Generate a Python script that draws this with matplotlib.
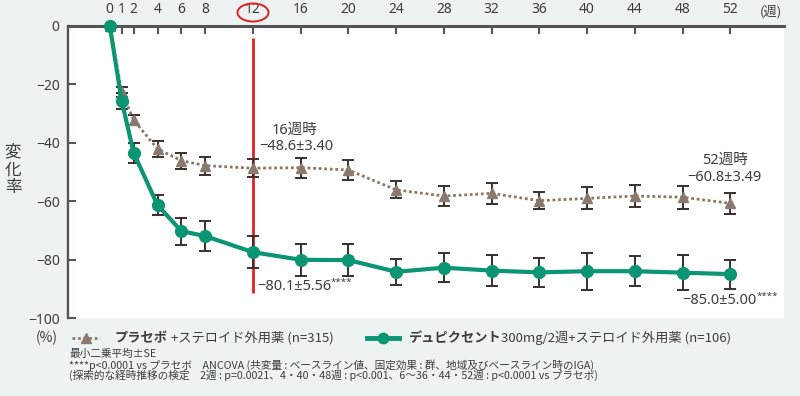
import matplotlib
matplotlib.use("Agg")
import matplotlib.pyplot as plt
from matplotlib.lines import Line2D
from matplotlib.patches import Ellipse

plt.rcParams['font.family'] = ['Noto Sans CJK JP', 'DejaVu Sans']
NUMFONT = ['Noto Sans', 'Noto Sans CJK JP', 'DejaVu Sans']

# ---------------- data ----------------
weeks = [0, 1, 2, 4, 6, 8, 12, 16, 20, 24, 28, 32, 36, 40, 44, 48, 52]
tick_labels = ['0', '1', '2', '4', '6', '8', '12', '16', '20', '24', '28', '32',
               '36', '40', '44', '48', '52']
placebo_mean = [0, -22.7, -32.3, -42.2, -46.2, -47.9, -48.8, -48.6, -49.4, -56.2,
                -58.3, -57.4, -59.9, -59.1, -58.3, -58.7, -60.8]
placebo_se = [0, 1.7, 1.7, 2.6, 2.7, 3.1, 3.1, 3.4, 3.5, 2.9, 3.3, 3.5, 2.9,
              3.8, 3.8, 3.9, 3.49]
dupi_mean = [0, -25.8, -43.5, -61.4, -70.3, -72.0, -77.5, -80.1, -80.2, -84.2,
             -82.8, -83.8, -84.4, -84.0, -84.0, -84.5, -85.0]
dupi_se = [0, 2.8, 3.5, 3.4, 4.6, 5.1, 5.5, 5.56, 5.6, 4.4, 5.0, 5.2, 5.0,
           6.3, 5.1, 5.9, 5.0]
yticks = [0, -20, -40, -60, -80, -100]
ytick_labels = ['0', '−20', '−40', '−60', '−80', '−100']

# ---------------- style ----------------
BG = '#edf3f2'
GREEN = '#0b9573'
PLAC = '#8a7a6d'
PLAC_LINE = '#8c7664'
ERR = '#3a2e2e'
TXT = '#3d3d3d'
SPINE = '#555555'
RED = '#e0201e'

W, H = 800, 396
fig = plt.figure(figsize=(8, 3.96), dpi=100, facecolor=BG)
ax = fig.add_axes([68 / W, 1 - 318 / H, (784 - 68) / W, (318 - 25.5) / H])
ax.set_facecolor('white')
ax.set_xlim(-3.5, 56.5)
ax.set_ylim(-100, 0)

for s in ['bottom', 'right']:
    ax.spines[s].set_visible(False)
ax.spines['top'].set_color(SPINE)
ax.spines['top'].set_linewidth(2.2)
ax.spines['left'].set_color(SPINE)
ax.spines['left'].set_linewidth(1.7)

ax.xaxis.tick_top()
ax.set_xticks(weeks)
ax.set_xticklabels(tick_labels, family=NUMFONT)
ax.tick_params(axis='x', direction='in', length=6, width=1.5, color=SPINE,
               labelsize=10, labelcolor=TXT, pad=6)
ax.set_yticks(yticks)
ax.set_yticklabels(ytick_labels, family=NUMFONT)
ax.tick_params(axis='y', direction='in', length=6, width=1.5, color=SPINE,
               labelsize=10, labelcolor=TXT, pad=6)

# red reference line at week 12
ax.plot([12, 12], [-4.3, -91.5], color=RED, lw=2, zorder=2, solid_capstyle='butt')

# error bars
ax.errorbar(weeks[1:], placebo_mean[1:], yerr=placebo_se[1:], fmt='none',
            ecolor=ERR, elinewidth=1.4, capsize=4.5, capthick=1.4, zorder=3)
ax.errorbar(weeks[1:], dupi_mean[1:], yerr=dupi_se[1:], fmt='none',
            ecolor=ERR, elinewidth=1.4, capsize=4.5, capthick=1.4, zorder=3)

# series
ax.plot(weeks, placebo_mean, color=PLAC_LINE, lw=2, ls=(0, (1, 1)),
        marker='^', ms=6.5, mfc=PLAC, mec=PLAC, zorder=4, clip_on=False)
ax.plot(weeks, dupi_mean, color=GREEN, lw=3, marker='o', ms=8.5,
        mfc=GREEN, mec=GREEN, zorder=5, clip_on=False)

# annotations
def wk(px):
    return (px - 110) / 11.92

def val(py):
    return -(py - 25.5) / 2.925

ax.text(wk(295), val(130), '16週時', ha='center', va='center', fontsize=10.5,
        color=TXT, family=NUMFONT)
ax.text(wk(296), val(147), '−48.6±3.40', ha='center', va='center', fontsize=10.5,
        color=TXT, family=NUMFONT)
t1 = ax.text(wk(257), val(286), '−80.1±5.56', ha='left', va='center', fontsize=10.5,
             color=TXT, family=NUMFONT)
ax.annotate('****', xy=(1, 0.45), xycoords=t1, ha='left', va='bottom', fontsize=7,
            color=TXT, family=NUMFONT)
ax.text(wk(725), val(160), '52週時', ha='center', va='center', fontsize=10.5,
        color=TXT, family=NUMFONT)
ax.text(wk(724), val(177), '−60.8±3.49', ha='center', va='center', fontsize=10.5,
        color=TXT, family=NUMFONT)
t2 = ax.text(wk(682), val(300), '−85.0±5.00', ha='left', va='center', fontsize=10.5,
             color=TXT, family=NUMFONT)
ax.annotate('****', xy=(1, 0.45), xycoords=t2, ha='left', va='bottom', fontsize=7,
            color=TXT, family=NUMFONT)

# ellipse around 12 tick label
def fx(px):
    return px / W

def fy(py):
    return 1 - py / H

fig.add_artist(Ellipse((fx(253), fy(12.5)), 31 / W, 18 / H, transform=fig.transFigure,
                       fill=False, edgecolor=RED, lw=1.4))
fig.text(fx(771), fy(12), '(週)', ha='center', va='center', fontsize=9.5, color=TXT)

# y label
fig.text(fx(13), fy(170), '変\n化\n率', ha='center', va='center', fontsize=12,
         color=TXT, linespacing=1.05)

# legend (manual)
ly = fy(338)
fig.text(fx(47), ly, '(%)', ha='center', va='center', fontsize=10, color=TXT)
fig.add_artist(Line2D([fx(72), fx(100)], [ly, ly], transform=fig.transFigure,
                      color=PLAC_LINE, lw=2, ls=(0, (1, 1))))
fig.add_artist(Line2D([fx(86)], [ly], transform=fig.transFigure, marker='^',
                      ms=6.5, mfc=PLAC, mec=PLAC, ls='none'))
a = fig.text(fx(115), ly, 'プラセボ', ha='left', va='center', fontsize=9.5,
             fontweight='bold', color=TXT)
ax.annotate(' +ステロイド外用薬 (n=315)', xy=(1, 0.5), xycoords=a, ha='left',
            va='center', fontsize=9.5, color=TXT, annotation_clip=False)

fig.add_artist(Line2D([fx(367), fx(399)], [ly, ly], transform=fig.transFigure,
                      color=GREEN, lw=3.5))
fig.add_artist(Line2D([fx(383)], [ly], transform=fig.transFigure, marker='o',
                      ms=7.5, mfc=GREEN, mec=GREEN, ls='none'))
b = fig.text(fx(408), ly, 'デュピクセント', ha='left', va='center', fontsize=9.5,
             fontweight='bold', color=TXT)
ax.annotate('300mg/2週+ステロイド外用薬 (n=106)', xy=(1, 0.5), xycoords=b, ha='left',
            va='center', fontsize=9.5, color=TXT, annotation_clip=False)

# footnotes
notes = [
    '最小二乗平均±SE',
    '****p<0.0001 vs プラセボ　ANCOVA (共変量 : ベースライン値、固定効果 : 群、地域及びベースライン時のIGA)',
    '(探索的な経時推移の検定　2週 : p=0.0021、4・40・48週 : p<0.001、6～36・44・52週 : p<0.0001 vs プラセボ)',
]
for i, n in enumerate(notes):
    fig.text(fx(69), fy(354 + 10.8 * i), n, ha='left', va='center', fontsize=7.7, color=TXT)

fig.savefig('out.png', dpi=100, facecolor=BG)
